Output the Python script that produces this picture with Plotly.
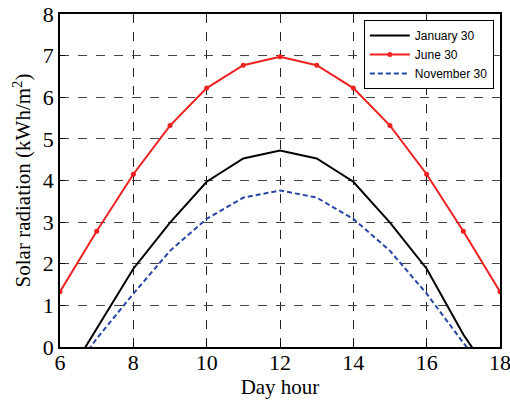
import plotly.graph_objects as go

hours = [6, 7, 8, 9, 10, 11, 12, 13, 14, 15, 16, 17, 18]
january = [-1.0, 0.43, 1.88, 2.99, 3.97, 4.53, 4.72, 4.53, 3.97, 2.99, 1.88, 0.3, -1.0]
june = [1.33, 2.78, 4.15, 5.32, 6.22, 6.77, 6.97, 6.77, 6.22, 5.32, 4.15, 2.78, 1.33]
november = [-1.0, 0.2, 1.28, 2.31, 3.08, 3.59, 3.76, 3.59, 3.08, 2.31, 1.28, 0.1, -1.0]

x_ticks = [6, 8, 10, 12, 14, 16, 18]
y_ticks = [0, 1, 2, 3, 4, 5, 6, 7, 8]

fig = go.Figure()
fig.add_trace(go.Scatter(x=hours, y=january, mode="lines", name="January 30",
                         line=dict(color="black", width=2)))
fig.add_trace(go.Scatter(x=hours, y=june, mode="lines+markers", name="June 30",
                         line=dict(color="#f02020", width=2),
                         marker=dict(size=5, color="#f02020")))
fig.add_trace(go.Scatter(x=hours, y=november, mode="lines", name="November 30",
                         line=dict(color="#2846a8", width=2, dash="5px,3px")))

serif = "Liberation Serif, Times New Roman, serif"
fig.update_layout(
    width=510, height=401,
    margin=dict(l=60, r=10, t=14, b=54),
    paper_bgcolor="white", plot_bgcolor="white",
    showlegend=True,
    legend=dict(x=0.986, y=0.982, xanchor="right", yanchor="top",
                bordercolor="black", borderwidth=1, bgcolor="white",
                font=dict(family="Liberation Sans, Arial, sans-serif", size=12, color="black"),
                tracegroupgap=0, itemwidth=40),
    font=dict(family=serif, color="black"),
)
fig.update_xaxes(range=[6, 18], tickvals=x_ticks, ticktext=[str(v) for v in x_ticks],
                 automargin=False, ticklabeloverflow="allow", ticklabelstandoff=-5,
                 showgrid=True, gridcolor="#222", griddash="dash", gridwidth=1,
                 showline=True, linecolor="black", linewidth=1.5, mirror=True,
                 ticks="inside", ticklen=5, tickcolor="black",
                 tickfont=dict(family=serif, size=22, color="black"),
                 title=dict(text="Day hour", font=dict(family=serif, size=21, color="black"), standoff=0),
                 zeroline=False)
fig.update_yaxes(range=[0, 8], tickvals=y_ticks, ticktext=[str(v) for v in y_ticks],
                 automargin=False, ticklabeloverflow="allow",
                 showgrid=True, gridcolor="#444", griddash="dash", gridwidth=1,
                 showline=True, linecolor="black", linewidth=1.5, mirror=True,
                 ticks="inside", ticklen=5, tickcolor="black",
                 tickfont=dict(family=serif, size=22, color="black"),
                 title=dict(text="Solar radiation (kWh/m<sup>2</sup>)", font=dict(family=serif, size=21, color="black"), standoff=6),
                 zeroline=False)

fig.write_html("out.html")
